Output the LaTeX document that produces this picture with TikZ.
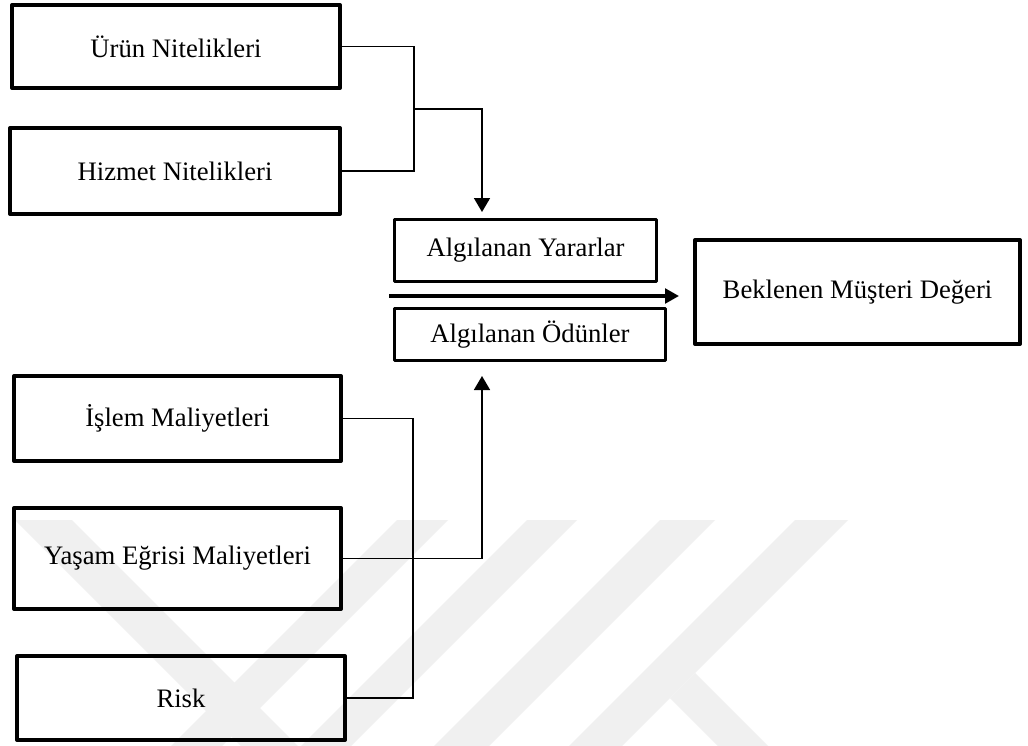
\documentclass[tikz,border=0pt]{standalone}
\usepackage{fontspec}
\setmainfont{Liberation Serif}
\usetikzlibrary{arrows.meta}
\definecolor{wmgray}{RGB}{240,240,240}
\begin{document}
\begin{tikzpicture}[x=0.75pt,y=-0.75pt,
  every node/.style={font=\fontsize{20pt}{24pt}\selectfont, inner sep=0pt},
  bigbox/.style={draw, line width=3pt, rectangle, line join=round},
  midbox/.style={draw, line width=2.2pt, rectangle, line join=round},
  link/.style={draw, line width=1.25pt, line join=miter},
  linkarrow/.style={link, -{Triangle[width=12pt,length=10.5pt]}},
  mainarrow/.style={draw, line width=2.5pt, -{Triangle[width=11pt,length=10.5pt]}},
  wm/.style={fill=wmgray, draw=none}]

% canvas
\useasboundingbox (0,0) rectangle (1028,746);
\fill[white] (0,0) rectangle (1028,746);

% faint background emblem
\fill[wm] (15,520) -- (72,520) -- (298,746) -- (241,746) -- cycle;
\fill[wm] (397,520) -- (448,520) -- (222,746) -- (171,746) -- cycle;
\fill[wm] (527,520) -- (577,520) -- (351,746) -- (301,746) -- cycle;
\fill[wm] (660,520) -- (715,520) -- (489,746) -- (434,746) -- cycle;
\fill[wm] (795,520) -- (848,520) -- (622,746) -- (569,746) -- cycle;
\fill[wm] (695,673) -- (768,746) -- (718,746) -- (670,698) -- cycle;

% benefit sources
\node[bigbox, minimum width=246pt, minimum height=62.25pt] (urun) at (176,46.5) {Ürün Nitelikleri};
\node[bigbox, minimum width=247.5pt, minimum height=64.5pt] (hizmet) at (175,171) {Hizmet Nitelikleri};

% cost sources
\node[bigbox, minimum width=245.25pt, minimum height=63.75pt] (islem) at (177.5,418.5) {İşlem Maliyetleri};
\node[bigbox, minimum width=245.25pt, minimum height=75.75pt] (yasam) at (177.5,558.5) {Yaşam Eğrisi Maliyetleri};
\node[bigbox, minimum width=246pt, minimum height=63pt] (risk) at (181,698) {Risk};

% perceived benefits / sacrifices
\node[midbox, minimum width=196.5pt, minimum height=46.5pt] (yarar) at (525.5,250.5) {Algılanan Yararlar};
\node[midbox, minimum width=203.25pt, minimum height=39pt] (odun) at (530,334.5) {Algılanan Ödünler};

% result
\node[bigbox, minimum width=243.75pt, minimum height=78pt] (deger) at (857.5,292) {Beklenen Müşteri Değeri};

% upper bracket and arrow down to the benefits box
\coordinate (ubus) at (414,109);
\coordinate (utip) at (482,212);
\draw[link] (urun.east) -| (ubus) |- (hizmet.east);
\draw[linkarrow] (ubus) -| (utip);

% lower brackets and arrow up to the sacrifices box
\coordinate (lbus) at (413,418.5);
\coordinate (ltip) at (482,376);
\draw[link] (islem.east) -- (lbus) |- (risk.east);
\draw[linkarrow] (yasam.east) -| (ltip);

% main arrow towards customer value
\coordinate (mstart) at (389,296);
\coordinate (mtip) at (679,296);
\draw[mainarrow] (mstart) -- (mtip);
\end{tikzpicture}
\end{document}
